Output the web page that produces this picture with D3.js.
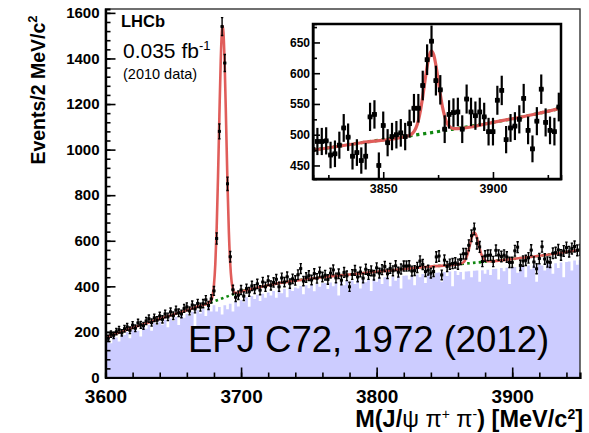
<!DOCTYPE html>
<html>
<head>
<meta charset="utf-8" />
<title>M(J/psi pi pi)</title>
<script src="https://d3js.org/d3.v7.min.js"></script>
<style>
  body { margin:0; background:#fff; }
  text { font-family: "Liberation Sans", Arial, Helvetica, sans-serif; fill:#000; }
</style>
</head>
<body>
<svg id="chart"></svg>
<script>
// bins: 2 MeV wide, centres 3600 ... 3950
var binFirst = 3600, binWidth = 2;

// data (black points), events per bin
var dataCounts = [168,
  172, 190, 185, 201, 210, 196, 214, 222, 207, 230,
  216, 240, 231, 227, 248, 258, 241, 262, 251, 270,
  255, 279, 266, 288, 271, 296, 284, 279, 303, 310,
  292, 318, 301, 325, 309, 324, 341, 316, 345, 380,
  610, 1080, 1540, 1380, 850, 530, 385, 352, 361, 384,
  357, 390, 376, 402, 388, 411, 383, 419, 398, 425,
  404, 417, 431, 398, 437, 419, 442, 412, 433, 426,
  451, 478, 423, 439, 447, 428, 456, 435, 462, 441,
  449, 430, 458, 472, 437, 455, 427, 461, 446, 398,
  452, 470, 441, 463, 436, 475, 452, 468, 449, 481,
  458, 473, 487, 455, 479, 468, 490, 462, 476, 489,
  489, 490, 467, 469, 483, 511, 496, 465, 471, 458,
  465, 529, 533, 450, 515, 487, 497, 500, 503, 497,
  518, 543, 543, 580, 622, 652, 588, 573, 509, 533,
  536, 537, 509, 558, 537, 531, 537, 529, 505, 505,
  556, 572, 492, 511, 514, 525, 559, 507, 477, 522,
  574, 520, 507, 505, 545, 548, 560, 538, 555, 570,
  552, 566, 575, 558, 560];

// lavender histogram
var histCounts = [160,
  171, 150, 180, 176, 158, 191, 186, 200, 172, 207,
  211, 205, 180, 222, 214, 230, 205, 238, 230, 245,
  232, 253, 220, 259, 248, 266, 230, 274, 262, 280,
  270, 288, 222, 295, 281, 302, 270, 310, 290, 317,
  290, 309, 276, 317, 300, 324, 290, 332, 312, 339,
  330, 352, 310, 358, 345, 363, 336, 368, 350, 373,
  360, 380, 350, 385, 370, 389, 352, 392, 380, 395,
  390, 402, 365, 405, 392, 408, 378, 411, 398, 414,
  415, 388, 417, 400, 419, 360, 421, 405, 424, 385,
  426, 410, 429, 390, 431, 418, 432, 380, 435, 420,
  437, 410, 440, 441, 400, 443, 425, 445, 390, 447,
  448, 430, 450, 405, 452, 440, 454, 415, 457, 458,
  440, 460, 461, 420, 463, 445, 465, 400, 467, 450,
  463, 430, 465, 466, 440, 468, 469, 420, 471, 455,
  473, 450, 476, 477, 430, 480, 466, 482, 410, 484,
  485, 460, 488, 489, 440, 492, 475, 494, 420, 497,
  492, 470, 496, 497, 455, 501, 480, 505, 440, 507,
  509, 470, 513, 495, 515];

// total fit (red)
var fitMass = [3600, 3620, 3640, 3660, 3670, 3675, 3678, 3679, 3680, 3681, 3682, 3683, 3684, 3685, 3686, 3686.4,
  3687, 3688, 3689, 3690, 3691, 3692, 3693, 3694, 3695, 3697, 3700, 3710, 3720, 3740, 3760, 3780,
  3800, 3820, 3840, 3860, 3862, 3864, 3865, 3866, 3867, 3868, 3869, 3870, 3871, 3872, 3873, 3874,
  3875, 3876, 3877, 3878, 3879, 3880, 3882, 3884, 3900, 3920, 3940, 3950];
var fitCounts = [176, 218, 258, 295, 315, 324, 339, 360, 406, 498, 655, 882, 1148, 1390, 1529, 1542,
  1515, 1354, 1106, 847, 638, 499, 422, 387, 372, 372, 377, 392, 405, 425, 440, 452,
  464, 476, 487, 497, 499, 505, 512, 523, 540, 562, 587, 611, 629, 636, 630, 613,
  590, 566, 545, 530, 519, 514, 510, 510, 520, 534, 551, 560];

// background component (green dotted)
var bkgMass = [3600, 3620, 3640, 3660, 3670, 3680, 3690, 3700, 3710, 3720, 3740, 3760, 3780, 3800,
  3820, 3840, 3860, 3880, 3900, 3920, 3940, 3950];
var bkgCounts = [176, 218, 258, 295, 315, 334, 356, 377, 392, 405, 425, 440, 452, 464,
  476, 487, 497, 508, 520, 534, 551, 560];

var xTicks = [3600, 3700, 3800, 3900];
var yTicks = [0, 200, 400, 600, 800, 1000, 1200, 1400, 1600];
var insetXTicks = [3850, 3900];
var insetYTicks = [450, 500, 550, 600, 650];

var W = 589, H = 433;
var massBins = dataCounts.map(function(d, i) { return binFirst + binWidth * i; });

var svg = d3.select("#chart").attr("width", W).attr("height", H);
svg.append("rect").attr("width", W).attr("height", H).attr("fill", "#fff");

var plot = {left: 105.5, right: 580, top: 9, bottom: 377.5};

var x = d3.scaleLinear().domain([3600, 3950]).range([plot.left, plot.right]);
var y = d3.scaleLinear().domain([0, 1617]).range([plot.bottom, plot.top]);

var defs = svg.append("defs");
defs.append("clipPath").attr("id", "mainClip").append("rect")
  .attr("x", plot.left).attr("y", plot.top)
  .attr("width", plot.right - plot.left).attr("height", plot.bottom - plot.top);

var main = svg.append("g").attr("clip-path", "url(#mainClip)");

// histogram as steps between bin edges
var histPts = histCounts.map(function(h, i) { return [massBins[i] - 1, h]; });
histPts.push([massBins[massBins.length - 1] + 1, histCounts[histCounts.length - 1]]);

main.append("path")
  .datum(histPts)
  .attr("fill", "#ccccff")
  .attr("d", d3.area()
    .x(function(d) { return x(d[0]); })
    .y0(y(0))
    .y1(function(d) { return y(d[1]); })
    .curve(d3.curveStepAfter));

function drawPoints(g, xs, ys, lo, hi, opt) {
  var pts = g.selectAll(".pt")
    .data(massBins.map(function(m, i) { return {m: m, v: dataCounts[i]}; })
      .filter(function(d) { return d.m >= lo && d.m <= hi; }))
    .enter().append("g").attr("class", "pt")
    .attr("stroke", "#000").attr("stroke-width", opt.lw);
  pts.append("line")
    .attr("x1", function(d) { return xs(d.m); })
    .attr("x2", function(d) { return xs(d.m); })
    .attr("y1", function(d) { return ys(d.v - Math.sqrt(d.v)); })
    .attr("y2", function(d) { return ys(d.v + Math.sqrt(d.v)); });
  pts.append("line")
    .attr("x1", function(d) { return xs(d.m - 1); })
    .attr("x2", function(d) { return xs(d.m + 1); })
    .attr("y1", function(d) { return ys(d.v); })
    .attr("y2", function(d) { return ys(d.v); });
  if (opt.cap) {
    [-1, 1].forEach(function(s) {
      pts.append("line")
        .attr("x1", function(d) { return xs(d.m) - opt.cap; })
        .attr("x2", function(d) { return xs(d.m) + opt.cap; })
        .attr("y1", function(d) { return ys(d.v + s * Math.sqrt(d.v)); })
        .attr("y2", function(d) { return ys(d.v + s * Math.sqrt(d.v)); });
    });
  }
  pts.append("rect")
    .attr("x", function(d) { return xs(d.m) - opt.ms / 2; })
    .attr("y", function(d) { return ys(d.v) - opt.ms / 2; })
    .attr("width", opt.ms).attr("height", opt.ms)
    .attr("stroke", "none").attr("fill", "#000");
}

function drawCurves(g, xs, ys, lw) {
  g.append("path")
    .datum(d3.zip(bkgMass, bkgCounts))
    .attr("fill", "none").attr("stroke", "#118811")
    .attr("stroke-width", lw).attr("stroke-dasharray", lw + "," + (lw + 0.6))
    .attr("d", d3.line().x(function(d) { return xs(d[0]); }).y(function(d) { return ys(d[1]); })
      .curve(d3.curveMonotoneX));
  g.append("path")
    .datum(d3.zip(fitMass, fitCounts))
    .attr("fill", "none").attr("stroke", "#e05d5a")
    .attr("stroke-width", lw)
    .attr("d", d3.line().x(function(d) { return xs(d[0]); }).y(function(d) { return ys(d[1]); })
      .curve(d3.curveMonotoneX));
}

drawCurves(main, x, y, 2.6);
drawPoints(main, x, y, 3590, 3960, {lw: 1.4, ms: 3, cap: 1.2});

// axes
var yAxisMinor = d3.axisLeft(y).tickValues(d3.range(0, 1601, 40)).tickSize(-5).tickFormat("");
var yAxis = d3.axisLeft(y).tickValues(yTicks).tickSize(-10).tickSizeOuter(0).tickPadding(6)
  .tickFormat(d3.format("d"));
var xAxisMinor = d3.axisBottom(x).tickValues(d3.range(3600, 3951, 20)).tickSize(-5).tickFormat("");
var xAxis = d3.axisBottom(x).tickValues(xTicks).tickSize(-10).tickSizeOuter(0).tickPadding(12)
  .tickFormat(d3.format("d"));

// frame
svg.append("rect")
  .attr("x", plot.left).attr("y", plot.top)
  .attr("width", plot.right - plot.left).attr("height", plot.bottom - plot.top)
  .attr("fill", "none").attr("stroke", "#333").attr("stroke-width", 1.4);

var gy = svg.append("g").attr("transform", "translate(" + plot.left + ",0)");
gy.call(yAxisMinor);
gy.append("g").call(yAxis);
var gx = svg.append("g").attr("transform", "translate(0," + plot.bottom + ")");
gx.call(xAxisMinor);
gx.append("g").call(xAxis);

svg.selectAll(".domain").attr("stroke", "#000").attr("stroke-width", 2.2);
svg.selectAll(".tick line").attr("stroke", "#000").attr("stroke-width", 1.6);
gy.selectAll("text").attr("font-size", 15).attr("font-weight", "bold")
  .attr("font-family", "Liberation Sans, Arial, sans-serif");
gx.selectAll("text").attr("font-size", 19).attr("font-weight", "bold")
  .attr("font-family", "Liberation Sans, Arial, sans-serif");

// axis titles
var yTitle = svg.append("text")
  .attr("transform", "translate(45,90) rotate(-90)")
  .attr("text-anchor", "middle")
  .attr("font-weight", "bold").attr("font-size", 19.5);
yTitle.append("tspan").text("Events/2 MeV/c");
yTitle.append("tspan").attr("dy", -8).attr("font-size", 13).text("2");

var xTitle = svg.append("text")
  .attr("x", 583).attr("y", 427)
  .attr("text-anchor", "end")
  .attr("font-weight", "bold").attr("font-size", 23.5);
xTitle.append("tspan").text("M(J/");
xTitle.append("tspan").attr("font-weight", "normal").text("\u03c8 \u03c0");
xTitle.append("tspan").attr("dy", -8).attr("font-size", 14).attr("font-weight", "normal").text("+");
xTitle.append("tspan").attr("dy", 8).attr("font-weight", "normal").text(" \u03c0");
xTitle.append("tspan").attr("dy", -8).attr("font-size", 14).attr("font-weight", "normal").text("-");
xTitle.append("tspan").attr("dy", 8).text(") [MeV/c");
xTitle.append("tspan").attr("dy", -8).attr("font-size", 14).text("2");
xTitle.append("tspan").attr("dy", 8).text("]");

// labels
svg.append("text").attr("x", 121).attr("y", 27)
  .attr("font-weight", "bold").attr("font-size", 16.5).text("LHCb");
var lumi = svg.append("text").attr("x", 123).attr("y", 58).attr("font-size", 21);
lumi.append("tspan").text("0.035 fb");
lumi.append("tspan").attr("dy", -8).attr("font-size", 13).text("-1");
svg.append("text").attr("x", 123).attr("y", 79).attr("font-size", 14.5).text("(2010 data)");

svg.append("text").attr("x", 188).attr("y", 352)
  .attr("font-size", 36.5).text("EPJ C72, 1972 (2012)");

// inset
var box = {left: 313, right: 561, top: 24, bottom: 179};
var ix = d3.scaleLinear().domain([3818, 3931]).range([box.left, box.right]);
var iy = d3.scaleLinear().domain([428, 680]).range([box.bottom, box.top]);

svg.append("rect")
  .attr("x", box.left).attr("y", box.top)
  .attr("width", box.right - box.left).attr("height", box.bottom - box.top)
  .attr("fill", "#fff");

defs.append("clipPath").attr("id", "insetClip").append("rect")
  .attr("x", box.left).attr("y", box.top)
  .attr("width", box.right - box.left).attr("height", box.bottom - box.top);

var inset = svg.append("g").attr("clip-path", "url(#insetClip)");
drawCurves(inset, ix, iy, 3.2);
drawPoints(inset, ix, iy, 3814, 3936, {lw: 2.2, ms: 4.8, cap: 0});

var iyMinor = d3.axisLeft(iy).tickValues([475, 525, 575, 625, 675]).tickSize(-4).tickFormat("");
var iyAxis = d3.axisLeft(iy).tickValues(insetYTicks).tickSize(-7).tickSizeOuter(0).tickPadding(3)
  .tickFormat(d3.format("d"));
var ixMinor = d3.axisBottom(ix).tickValues([3825, 3875, 3925]).tickSize(-4).tickFormat("");
var ixAxis = d3.axisBottom(ix).tickValues(insetXTicks).tickSize(-7).tickSizeOuter(0).tickPadding(5)
  .tickFormat(d3.format("d"));

var giy = svg.append("g").attr("transform", "translate(" + box.left + ",0)");
giy.call(iyMinor);
giy.append("g").call(iyAxis);
var gix = svg.append("g").attr("transform", "translate(0," + box.bottom + ")");
gix.call(ixMinor);
gix.append("g").call(ixAxis);

giy.selectAll(".domain, .tick line").attr("stroke", "#000").attr("stroke-width", 1.6);
gix.selectAll(".domain, .tick line").attr("stroke", "#000").attr("stroke-width", 1.6);
giy.selectAll("text").attr("font-size", 12).attr("font-weight", "bold")
  .attr("font-family", "Liberation Sans, Arial, sans-serif");
gix.selectAll("text").attr("font-size", 12.5).attr("font-weight", "bold")
  .attr("font-family", "Liberation Sans, Arial, sans-serif");

svg.append("rect")
  .attr("x", box.left).attr("y", box.top)
  .attr("width", box.right - box.left).attr("height", box.bottom - box.top)
  .attr("fill", "none").attr("stroke", "#000").attr("stroke-width", 2.5);
</script>
</body>
</html>
